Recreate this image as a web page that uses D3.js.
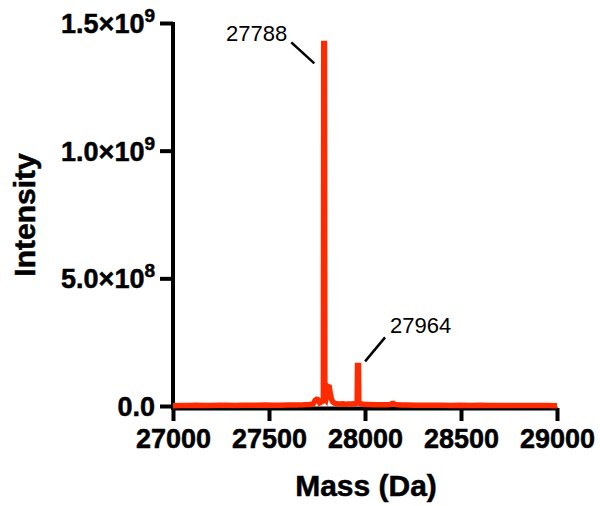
<!DOCTYPE html>
<html>
<head>
<meta charset="utf-8">
<script src="https://cdn.jsdelivr.net/npm/d3@7"></script>
<style>
  html, body { margin: 0; padding: 0; background: #fff; }
  svg { display: block; }
  text { font-family: "Liberation Sans", Arial, Helvetica, sans-serif; }
  .bold { font-weight: bold; stroke: #000; stroke-width: 0.5px; }
</style>
</head>
<body>
<svg id="chart" width="600" height="506"></svg>
<script>
// Deconvoluted mass spectrum: mass (Da) vs intensity
const mass = [
  27000, 27040, 27080, 27120, 27160, 27200, 27240, 27280, 27320, 27360,
  27400, 27440, 27480, 27520, 27560, 27600, 27640, 27680, 27710, 27730,
  27740, 27748, 27756, 27764, 27772, 27778, 27783, 27785, 27789, 27791,
  27796, 27800, 27804, 27808, 27814, 27820, 27826, 27832, 27838, 27846,
  27856, 27870, 27885, 27900, 27915, 27930, 27945, 27955, 27959, 27961,
  27966, 27968, 27974, 27985, 28000, 28020, 28045, 28070, 28095, 28115,
  28130, 28140, 28148, 28156, 28170, 28190, 28220, 28260, 28300, 28350,
  28400, 28450, 28500, 28550, 28600, 28650, 28700, 28750, 28800, 28850,
  28900, 28950, 29000
];
const intensity = [
  1.0e6, 2.0e6, 1.5e6, 2.5e6, 2.0e6, 1.5e6, 2.5e6, 3.0e6, 2.0e6, 2.5e6,
  3.0e6, 2.5e6, 3.5e6, 3.0e6, 2.5e6, 3.5e6, 4.0e6, 4.5e6, 6.0e6, 8.0e6,
  2.2e7, 2.6e7, 2.4e7, 1.2e7, 1.5e7, 1.8e7, 2.0e7, 1.42e9, 1.42e9, 3.0e7,
  2.5e7, 4.0e7, 7.8e7, 7.6e7, 7.4e7, 4.5e7, 2.6e7, 1.6e7, 1.2e7, 1.0e7,
  9.0e6, 8.0e6, 9.0e6, 7.0e6, 8.0e6, 7.5e6, 8.5e6, 1.0e7, 1.2e7, 1.59e8,
  1.59e8, 1.4e7, 1.0e7, 8.0e6, 6.0e6, 5.5e6, 5.0e6, 5.0e6, 4.5e6, 5.0e6,
  6.0e6, 9.0e6, 1.0e7, 6.0e6, 4.5e6, 4.0e6, 3.5e6, 3.0e6, 3.0e6, 2.5e6,
  3.0e6, 2.0e6, 2.5e6, 2.0e6, 2.5e6, 2.0e6, 1.5e6, 2.0e6, 1.5e6, 2.0e6,
  1.5e6, 1.5e6, 1.0e6
];

// Axis ticks
const xTicks = [27000, 27500, 28000, 28500, 29000];
const yTicks = [0, 5e8, 1e9, 1.5e9];
const yTickMantissa = ["0.0", "5.0", "1.0", "1.5"];
const yTickExponent = [null, "8", "9", "9"];

// Annotated peaks
const peakMass = [27788, 27964];
const peakLabel = ["27788", "27964"];
const peakIntensity = [1.42e9, 1.59e8];

const svg = d3.select("#chart");

const x = d3.scaleLinear().domain([27000, 29000]).range([173, 557]);
const y = d3.scaleLinear().domain([0, 1.5e9]).range([406, 23]);

const axisColor = "#000";
const lineColor = "#ff2a00";

// x axis line and ticks
const xAxisY = 408;
const xAxis = svg.append("g").attr("transform", `translate(0,${xAxisY})`)
  .call(d3.axisBottom(x).tickValues(xTicks).tickSize(13).tickSizeOuter(0).tickPadding(8)
        .tickFormat(d3.format("d")));
xAxis.select(".domain").attr("stroke", axisColor).attr("stroke-width", 4);
xAxis.selectAll(".tick line").attr("stroke", axisColor).attr("stroke-width", 4);
xAxis.selectAll(".tick text")
  .attr("class", "bold")
  .attr("fill", axisColor)
  .attr("font-size", 27)
  .attr("font-family", "'Liberation Sans', Arial, sans-serif");

// y axis line and ticks
const yAxis = svg.append("g").attr("transform", "translate(173,0)")
  .call(d3.axisLeft(y).tickValues(yTicks).tickSize(13).tickSizeOuter(0).tickFormat(""));
yAxis.select(".domain").attr("stroke", axisColor).attr("stroke-width", 4)
  .attr("d", `M0,${y(1.5e9) - 1}V${xAxisY + 2}`);
yAxis.selectAll(".tick line").attr("stroke", axisColor).attr("stroke-width", 4);

// y tick labels with superscript exponents
const yLab = svg.append("g");
yTicks.forEach((v, i) => {
  const t = yLab.append("text")
    .attr("class", "bold")
    .attr("x", 155)
    .attr("y", y(v) + 10)
    .attr("text-anchor", "end")
    .attr("font-size", 27)
    .attr("fill", axisColor);
  if (yTickExponent[i]) {
    t.append("tspan").text(yTickMantissa[i] + "×10");
    t.append("tspan").attr("font-size", 19).attr("dy", -11).text(yTickExponent[i]);
  } else {
    t.text(yTickMantissa[i]);
  }
});

// spectrum trace
const line = d3.line().x((d, i) => x(mass[i])).y((d, i) => y(intensity[i]));
svg.append("path")
  .datum(intensity)
  .attr("d", line)
  .attr("fill", "none")
  .attr("stroke", lineColor)
  .attr("stroke-width", 5.5)
  .attr("stroke-linejoin", "miter");

// peak annotations with leader lines
const ann = svg.append("g");
// 27788: label to the upper left
{
  const px = x(peakMass[0]), py = y(peakIntensity[0]);
  ann.append("line")
    .attr("x1", px - 33).attr("y1", py - 1)
    .attr("x2", px - 10).attr("y2", py + 20)
    .attr("stroke", "#000").attr("stroke-width", 2.5);
  ann.append("text")
    .attr("x", px - 37).attr("y", py - 2)
    .attr("text-anchor", "end")
    .attr("font-size", 22)
    .attr("fill", "#000")
    .text(peakLabel[0]);
}
// 27964: label to the upper right
{
  const px = x(peakMass[1]), py = y(peakIntensity[1]);
  ann.append("line")
    .attr("x1", px + 7).attr("y1", py - 4)
    .attr("x2", px + 27).attr("y2", py - 28)
    .attr("stroke", "#000").attr("stroke-width", 2.5);
  ann.append("text")
    .attr("x", px + 32).attr("y", py - 32)
    .attr("text-anchor", "start")
    .attr("font-size", 22)
    .attr("fill", "#000")
    .text(peakLabel[1]);
}

// axis titles
svg.append("text")
  .attr("class", "bold")
  .attr("x", 366).attr("y", 496)
  .attr("text-anchor", "middle")
  .attr("font-size", 30)
  .attr("fill", "#000")
  .text("Mass (Da)");

svg.append("text")
  .attr("class", "bold")
  .attr("transform", "translate(35,215) rotate(-90)")
  .attr("text-anchor", "middle")
  .attr("font-size", 30)
  .attr("fill", "#000")
  .text("Intensity");
</script>
</body>
</html>
